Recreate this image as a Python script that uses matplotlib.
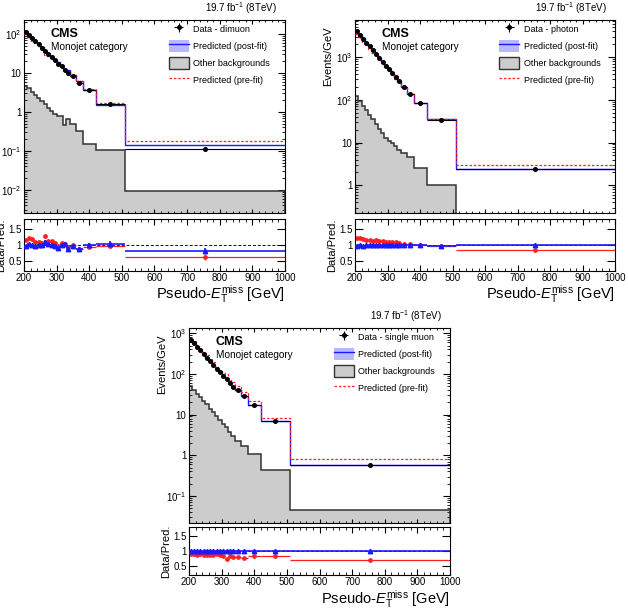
import numpy as np
import matplotlib
matplotlib.use('Agg')
import matplotlib.pyplot as plt
from matplotlib.ticker import FixedLocator, FuncFormatter, MultipleLocator, LogLocator, NullFormatter
from matplotlib.patches import Patch
from matplotlib.lines import Line2D

plt.rcParams['font.family'] = ['Liberation Sans', 'DejaVu Sans']
plt.rcParams['mathtext.fontset'] = 'custom'
plt.rcParams['mathtext.rm'] = 'Liberation Sans'
plt.rcParams['mathtext.it'] = 'Liberation Sans:italic'
plt.rcParams['mathtext.bf'] = 'Liberation Sans:bold'

### Binning (pseudo-MET in GeV)
bin_edges = [200, 210, 220, 230, 240, 250, 260, 270, 280, 290, 300, 310, 320, 330,
             340, 360, 380, 420, 510, 1000]
bin_centres = [205, 215, 225, 235, 245, 255, 265, 275, 285, 295, 305, 315, 325, 335,
               350, 370, 400, 465, 755]

### Dimuon control region
data_mumu = [116, 97, 80, 66, 55, 45, 37.5, 31.5, 26, 21.5, 17.5, 14.9, 12.3, 10.3,
             8.5, 5.5, 3.7, 1.6, 0.112]
ratio_post_mumu = [0.98, 1.03, 1.01, 0.97, 0.99, 0.99, 1.10, 1.03, 1.01, 0.98, 0.90, 0.99,
                   1.02, 0.88, 0.98, 0.86, 1.01, 1.04, 0.81]
ratio_pre_mumu = [1.15, 1.22, 1.18, 1.10, 1.10, 1.07, 1.26, 1.13, 1.11, 1.06, 0.97, 1.05,
                  1.03, 0.93, 1.00, 0.88, 0.94, 0.96, 0.63]
ratio_err_mumu = [0.03, 0.03, 0.03, 0.03, 0.035, 0.035, 0.04, 0.04, 0.04, 0.045, 0.05, 0.05,
                  0.055, 0.06, 0.05, 0.06, 0.06, 0.07, 0.09]
other_mumu = [4.7, 4.1, 3.3, 2.7, 2.3, 1.9, 1.6, 1.3, 1.05, 0.9, 0.8, 0.78, 0.46, 0.68,
              0.5, 0.32, 0.155, 0.105, 0.0095]

### Photon control region
data_gam = [4100, 3330, 2700, 2200, 1790, 1450, 1180, 960, 780, 630, 515, 420, 340, 275,
            200, 138, 84, 34, 2.45]
ratio_post_gam = [0.98, 0.99, 0.98, 0.99, 0.99, 1.0, 0.99, 0.99, 1.0, 0.99, 1.0, 0.99,
                  1.0, 1.0, 1.0, 1.0, 0.99, 0.98, 1.0]
ratio_pre_gam = [1.21, 1.20, 1.18, 1.16, 1.15, 1.13, 1.14, 1.12, 1.11, 1.10, 1.09, 1.08,
                 1.09, 1.05, 1.04, 1.03, 1.00, 0.96, 0.83]
ratio_err_gam = [0.01, 0.01, 0.01, 0.01, 0.01, 0.012, 0.012, 0.013, 0.014, 0.015, 0.016,
                 0.017, 0.018, 0.02, 0.02, 0.02, 0.02, 0.025, 0.03]
other_gam = [120, 94, 73, 57, 44, 35, 27, 21, 16.5, 13, 11, 9.6, 8.2, 6.8, 5.7, 4.5,
             2.6, 1.0, 1e-4]

### Single muon control region
data_mu = [700, 570, 465, 380, 310, 250, 205, 167, 136, 111, 90, 74, 60, 49, 40, 28,
           17.4, 6.8, 0.58]
ratio_post_mu = [0.99, 1.0, 0.99, 1.0, 1.0, 0.99, 1.0, 1.0, 0.99, 1.0, 1.0, 0.99, 1.0,
                 1.0, 0.99, 0.99, 0.99, 1.0, 1.0]
ratio_pre_mu = [0.90, 0.90, 0.88, 0.90, 0.88, 0.87, 0.88, 0.87, 0.90, 0.88, 0.84, 0.75,
                0.85, 0.79, 0.79, 0.78, 0.82, 0.84, 0.70]
ratio_err_mu = [0.01, 0.01, 0.01, 0.012, 0.012, 0.013, 0.014, 0.015, 0.016, 0.017, 0.018,
                0.02, 0.02, 0.022, 0.02, 0.025, 0.025, 0.03, 0.04]
other_mu = [50, 40, 33, 27, 22, 18, 14, 11.5, 9.2, 7.5, 6.0, 4.9, 3.8, 3.0, 2.3, 1.66,
            1.07, 0.43, 0.044]

BLUE = '#1a1aff'
RED = '#ff2020'
GREY = '#cccccc'
BAND = '#b8b8ff'


def log_label(v, pos):
    e = int(round(np.log10(v)))
    if e == 0:
        return '1'
    if e == 1:
        return '10'
    return r'$10^{%d}$' % e


def draw_panel(fig, rect_main, rect_ratio, data, r_post, r_pre, r_err, other,
               region, ylim):
    edges = np.array(bin_edges, dtype=float)
    centres = np.array(bin_centres, dtype=float)
    half = np.diff(edges) / 2
    data = np.array(data)
    r_post = np.array(r_post)
    r_pre = np.array(r_pre)
    r_err = np.array(r_err)
    post = data / r_post
    pre = data / r_pre

    ax = fig.add_axes(rect_main)
    ax.set_yscale('log')
    ax.stairs(other, edges, fill=True, baseline=1e-6, color=GREY, zorder=1)
    ax.stairs(other, edges, baseline=1e-6, color='#333333', lw=1.1, zorder=2)
    ax.stairs(post, edges, baseline=None, color=BLUE, lw=1.0, zorder=3)
    ax.stairs(pre, edges, baseline=None, color=RED, lw=0.9, ls=(0, (2, 1.5)), zorder=4)
    eb = ax.errorbar(centres, data, xerr=half, yerr=data * r_err / r_post, fmt='o',
                     color='black', ms=2.6, lw=0.8, capsize=0, zorder=5,
                     label='Data - ' + region)
    ax.set_xlim(200, 1000)
    ax.set_ylim(*ylim)
    ax.xaxis.set_major_locator(MultipleLocator(100))
    ax.xaxis.set_minor_locator(MultipleLocator(20))
    ax.yaxis.set_major_locator(LogLocator(base=10))
    ax.yaxis.set_minor_locator(LogLocator(base=10, subs=np.arange(2, 10)))
    ax.yaxis.set_major_formatter(FuncFormatter(log_label))
    ax.yaxis.set_minor_formatter(NullFormatter())
    ax.tick_params(axis='both', which='both', direction='in', top=True, right=True,
                   labelsize=7, pad=2)
    ax.tick_params(axis='y', which='major', length=5)
    ax.tick_params(axis='y', which='minor', length=2.5)
    ax.tick_params(axis='x', which='major', length=3)
    ax.tick_params(axis='x', which='minor', length=1.5)
    ax.tick_params(axis='x', labelbottom=False)
    ax.set_ylabel('Events/GeV', fontsize=8, loc='top')
    ax.yaxis.set_label_coords(-0.085, 0.965)

    ax.text(0.103, 0.96, 'CMS', transform=ax.transAxes, fontsize=9, fontweight='bold',
            va='top', ha='left')
    ax.text(0.103, 0.885, 'Monojet category', transform=ax.transAxes, fontsize=7.2,
            va='top', ha='left')
    ax.text(0.97, 1.02, r'19.7 fb$^{-1}$ (8TeV)', transform=ax.transAxes, fontsize=7,
            ha='right', va='bottom')

    handles = [eb,
               (Patch(facecolor=BAND, edgecolor='none'), Line2D([], [], color=BLUE, lw=1.0)),
               Patch(facecolor=GREY, edgecolor='#333333', lw=1.0),
               Line2D([], [], color=RED, lw=0.9, ls=(0, (2, 1.5)))]
    labels = ['Data - ' + region, 'Predicted (post-fit)', 'Other backgrounds',
              'Predicted (pre-fit)']
    ax.legend(handles, labels, loc='upper left', bbox_to_anchor=(0.555, 0.985),
              frameon=False, fontsize=6.5, handlelength=2.2, handleheight=1.6,
              labelspacing=0.6, handletextpad=0.5, borderaxespad=0, borderpad=0)

    rx = fig.add_axes(rect_ratio)
    rx.axhline(1, color='navy', lw=0.7, ls=(0, (3, 2)), zorder=1)
    rx.errorbar(centres, r_pre, xerr=half, yerr=r_err, fmt='o', color=RED, ms=2.4,
                lw=0.9, capsize=0, zorder=2)
    rx.errorbar(centres, r_post, xerr=half, yerr=r_err, fmt='^', color=BLUE, ms=3.2,
                lw=1.2, capsize=0, zorder=3)
    rx.set_xlim(200, 1000)
    rx.set_ylim(0.2, 1.8)
    rx.xaxis.set_major_locator(MultipleLocator(100))
    rx.xaxis.set_minor_locator(MultipleLocator(20))
    rx.yaxis.set_major_locator(FixedLocator([0.5, 1.0, 1.5]))
    rx.yaxis.set_major_formatter(FuncFormatter(lambda v, p: ('%g' % v)))
    rx.yaxis.set_minor_locator(MultipleLocator(0.1))
    rx.tick_params(axis='both', which='both', direction='in', top=True, right=True,
                   labelsize=7, pad=1.5)
    rx.tick_params(axis='y', which='major', length=6)
    rx.tick_params(axis='y', which='minor', length=0)
    rx.tick_params(axis='x', which='major', length=4)
    rx.tick_params(axis='x', which='minor', length=2)
    rx.set_ylabel('Data/Pred.', fontsize=8)
    rx.yaxis.set_label_coords(-0.07, 0.5)
    rx.set_xlabel(r'Pseudo-$E_{\mathrm{T}}^{\mathrm{miss}}$ [GeV]', fontsize=10.5,
                  loc='right', labelpad=0.5)
    return ax, rx


fig = plt.figure(figsize=(6.28, 6.10), dpi=100)

draw_panel(fig, [0.0382, 0.6503, 0.4156, 0.3169], [0.0382, 0.5562, 0.4156, 0.0848],
           data_mumu, ratio_post_mumu, ratio_pre_mumu, ratio_err_mumu, other_mumu,
           'dimuon', (0.0025, 230))
draw_panel(fig, [0.5653, 0.6503, 0.4140, 0.3169], [0.5653, 0.5562, 0.4140, 0.0848],
           data_gam, ratio_post_gam, ratio_pre_gam, ratio_err_gam, other_gam,
           'photon', (0.22, 7400))
draw_panel(fig, [0.3010, 0.1431, 0.4156, 0.3192], [0.3010, 0.0575, 0.4156, 0.0781],
           data_mu, ratio_post_mu, ratio_pre_mu, ratio_err_mu, other_mu,
           'single muon', (0.022, 1350))

fig.savefig('out.png', dpi=100)
